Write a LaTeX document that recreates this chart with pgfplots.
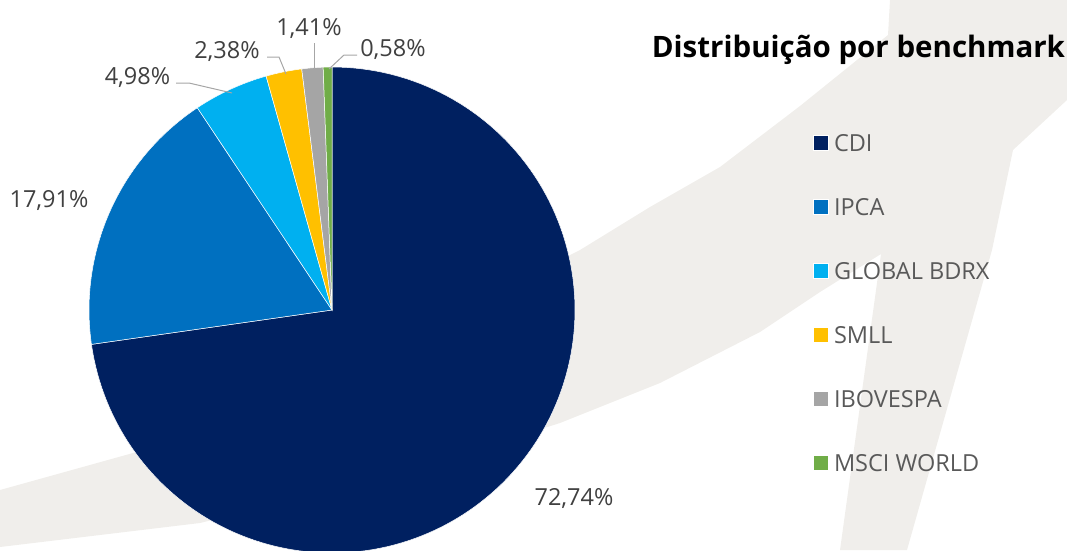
\documentclass[border=0pt]{standalone}
\usepackage{fontspec}
\setmainfont{Open Sans}
\usepackage{pgfplots}
\pgfplotsset{compat=1.18}

\definecolor{cdi}{HTML}{002060}
\definecolor{ipca}{HTML}{0070C0}
\definecolor{bdrx}{HTML}{00B0F0}
\definecolor{smll}{HTML}{FFC000}
\definecolor{ibov}{HTML}{A5A5A5}
\definecolor{msci}{HTML}{70AD47}
\definecolor{swoosh}{HTML}{F0EEEB}
\definecolor{lbl}{HTML}{404040}
\definecolor{legtxt}{HTML}{595959}
\definecolor{leader}{HTML}{A6A6A6}

\begin{document}
\begin{tikzpicture}
  % shares in %
  \def\vCDI{72.74}
  \def\vIPCA{17.91}
  \def\vBDRX{4.98}
  \def\vSMLL{2.38}
  \def\vIBOV{1.41}
  \def\vMSCI{0.58}
  % cumulative angles, starting at 12 o'clock, clockwise (y axis reversed)
  \pgfmathsetmacro\aA{-90}
  \pgfmathsetmacro\aB{\aA+3.6*\vCDI}
  \pgfmathsetmacro\aC{\aB+3.6*\vIPCA}
  \pgfmathsetmacro\aD{\aC+3.6*\vBDRX}
  \pgfmathsetmacro\aE{\aD+3.6*\vSMLL}
  \pgfmathsetmacro\aF{\aE+3.6*\vIBOV}
  \pgfmathsetmacro\aG{\aF+3.6*\vMSCI}
  \def\cx{332}\def\cy{310}\def\rr{243}
  \begin{axis}[
    width=1067pt, height=550pt, scale only axis,
    xmin=0, xmax=1067, ymin=0, ymax=550, y dir=reverse,
    hide axis, clip=true,
    legend cell align=left,
    legend image code/.code={\fill[#1] (0pt,-7.5pt) rectangle (15pt,7.5pt);},
    legend style={draw=none, fill=none, at={(axis cs:813,134.5)}, anchor=north west,
      inner sep=0pt, outer sep=0pt, row sep=47pt,
      font=\fontsize{23.5}{28}\selectfont,
      nodes={inner sep=0pt, text height=17pt, text depth=0pt, text=legtxt},
      /tikz/every odd column/.append style={column sep=5.5pt}},
  ]
    % background swoosh
    \fill[swoosh] (0,490) -- (133,453) -- (260,408) -- (400,340) -- (500,290)
      -- (580,250) -- (650,207) -- (720,167) -- (800,106) -- (888,35) -- (890,0)
      -- (1067,0) -- (1067,100) -- (1013,150) -- (992,250) -- (907,550)
      -- (840,550) -- (881,254) -- (820,292) -- (760,332) -- (660,383)
      -- (560,423) -- (400,474) -- (200,523) -- (0,547) -- cycle;

    \addplot[fill=cdi, draw=white, line width=0.5pt, domain=\aA:\aB, samples=150, variable=\t]
      ({\cx+\rr*cos(\t)}, {\cy+\rr*sin(\t)}) -- (axis cs:\cx,\cy) -- cycle;
    \addlegendentry{CDI}
    \addplot[fill=ipca, draw=white, line width=0.5pt, domain=\aB:\aC, samples=50, variable=\t]
      ({\cx+\rr*cos(\t)}, {\cy+\rr*sin(\t)}) -- (axis cs:\cx,\cy) -- cycle;
    \addlegendentry{IPCA}
    \addplot[fill=bdrx, draw=white, line width=0.5pt, domain=\aC:\aD, samples=20, variable=\t]
      ({\cx+\rr*cos(\t)}, {\cy+\rr*sin(\t)}) -- (axis cs:\cx,\cy) -- cycle;
    \addlegendentry{GLOBAL BDRX}
    \addplot[fill=smll, draw=white, line width=0.5pt, domain=\aD:\aE, samples=10, variable=\t]
      ({\cx+\rr*cos(\t)}, {\cy+\rr*sin(\t)}) -- (axis cs:\cx,\cy) -- cycle;
    \addlegendentry{SMLL}
    \addplot[fill=ibov, draw=white, line width=0.5pt, domain=\aE:\aF, samples=8, variable=\t]
      ({\cx+\rr*cos(\t)}, {\cy+\rr*sin(\t)}) -- (axis cs:\cx,\cy) -- cycle;
    \addlegendentry{IBOVESPA}
    \addplot[fill=msci, draw=white, line width=0.5pt, domain=\aF:\aG, samples=5, variable=\t]
      ({\cx+\rr*cos(\t)}, {\cy+\rr*sin(\t)}) -- (axis cs:\cx,\cy) -- cycle;
    \addlegendentry{MSCI WORLD}

    % leader lines
    \draw[leader, line width=1pt] (176,83) -- (189,83) -- (232,93);
    \draw[leader, line width=1pt] (267,57) -- (279,57) -- (286,74);
    \draw[leader, line width=1pt] (314,43) -- (314,69);
    \draw[leader, line width=1pt] (357,55) -- (344,55) -- (329,69);

    % data labels
    \tikzset{plab/.style={text=lbl, font=\fontsize{23.5}{28}\selectfont, anchor=base, inner sep=0pt}}
    \node[plab] at (574,505) {72,74\%};
    \node[plab] at (49,207) {17,91\%};
    \node[plab] at (137.5,84) {4,98\%};
    \node[plab] at (227,58) {2,38\%};
    \node[plab] at (309,35) {1,41\%};
    \node[plab] at (393,56) {0,58\%};

    % title
    \node[anchor=base, inner sep=0pt, font=\fontsize{29.5}{35}\selectfont\bfseries]
      at (858.5,57) {Distribuição por benchmark};
  \end{axis}
\end{tikzpicture}
\end{document}
